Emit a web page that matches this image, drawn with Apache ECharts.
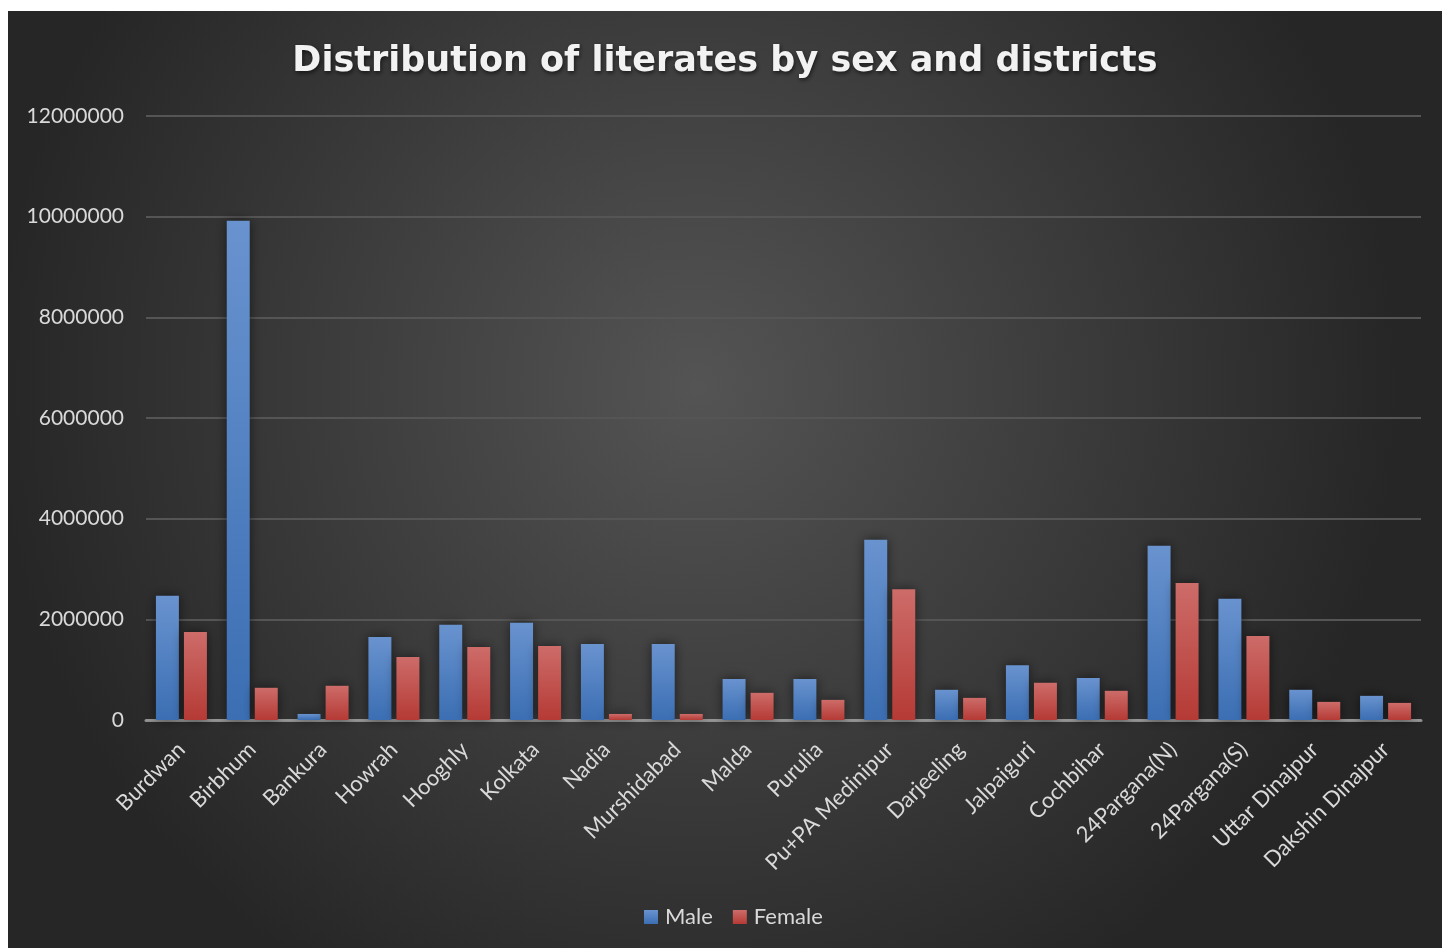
<!DOCTYPE html>
<html>
<head>
<meta charset="utf-8">
<script src="https://cdn.jsdelivr.net/npm/echarts@6/dist/echarts.min.js"></script>
<style>
html,body{margin:0;padding:0;background:#ffffff;width:1442px;height:948px;overflow:hidden;}
#chart{position:absolute;left:8px;top:11px;width:1434px;height:937px;}
</style>
</head>
<body>
<div id="chart"></div>
<script>
const categories = ['Burdwan','Birbhum','Bankura','Howrah','Hooghly','Kolkata','Nadia','Murshidabad','Malda','Purulia','Pu+PA Medinipur','Darjeeling','Jalpaiguri','Cochbihar','24Pargana(N)','24Pargana(S)','Uttar Dinajpur','Dakshin Dinajpur'];
const maleValues = [2470000, 9920000, 120000, 1650000, 1890000, 1930000, 1510000, 1510000, 815000, 815000, 3580000, 600000, 1090000, 835000, 3460000, 2410000, 600000, 480000];
const femaleValues = [1750000, 640000, 680000, 1250000, 1450000, 1470000, 120000, 120000, 540000, 400000, 2600000, 440000, 740000, 580000, 2720000, 1670000, 360000, 340000];
const yTicks = [0, 2000000, 4000000, 6000000, 8000000, 10000000, 12000000];

const chart = echarts.init(document.getElementById('chart'));
const font = 'Lato';
function grad(top, bottom){
  return new echarts.graphic.LinearGradient(0,0,0,1,[{offset:0,color:top},{offset:1,color:bottom}]);
}
chart.setOption({
  backgroundColor: new echarts.graphic.RadialGradient(0.48, 0.4, 0.75, [
    {offset:0, color:'#545454'},
    {offset:1, color:'#262626'}
  ]),
  animation:false,
  title:{
    text:'Distribution of literates by sex and districts',
    left:'center', top:28,
    textStyle:{color:'#f2f2f2', fontFamily:'DejaVu Sans', fontWeight:'bold', fontSize:35,
      textShadowColor:'rgba(0,0,0,0.6)', textShadowBlur:4, textShadowOffsetX:1, textShadowOffsetY:2}
  },
  legend:{
    bottom:15, left:631,
    itemWidth:14, itemHeight:14, itemGap:20,
    icon:'rect',
    textStyle:{color:'#d9d9d9', fontFamily:font, fontSize:22, padding:[0,0,0,2]},
    data:['Male','Female']
  },
  grid:{left:138, right:21, top:105, bottom:228, containLabel:false},
  xAxis:{
    type:'category', data:categories,
    axisLine:{show:true, lineStyle:{color:'#a6a6a6', width:3, opacity:0.8}},
    axisTick:{show:false},
    axisLabel:{rotate:45, color:'#d9d9d9', fontFamily:font, fontSize:22, margin:26, interval:0}
  },
  yAxis:{
    type:'value', min:yTicks[0], max:yTicks[yTicks.length-1], interval:2000000,
    axisLine:{show:false}, axisTick:{show:false},
    axisLabel:{color:'#d9d9d9', fontFamily:font, fontSize:21, margin:22, formatter:function(v){return String(v);}},
    splitLine:{lineStyle:{color:'#555555', width:2}}
  },
  series:[
    {name:'Male', type:'bar', data:maleValues, barGap:'22%', barCategoryGap:'28%',
     itemStyle:{color:grad('#6993cf','#3b6eb3'), shadowColor:'rgba(0,0,0,0.55)', shadowBlur:12}},
    {name:'Female', type:'bar', data:femaleValues,
     itemStyle:{color:grad('#cd6c69','#b53a35'), shadowColor:'rgba(0,0,0,0.55)', shadowBlur:12}}
  ]
});
</script>
</body>
</html>
